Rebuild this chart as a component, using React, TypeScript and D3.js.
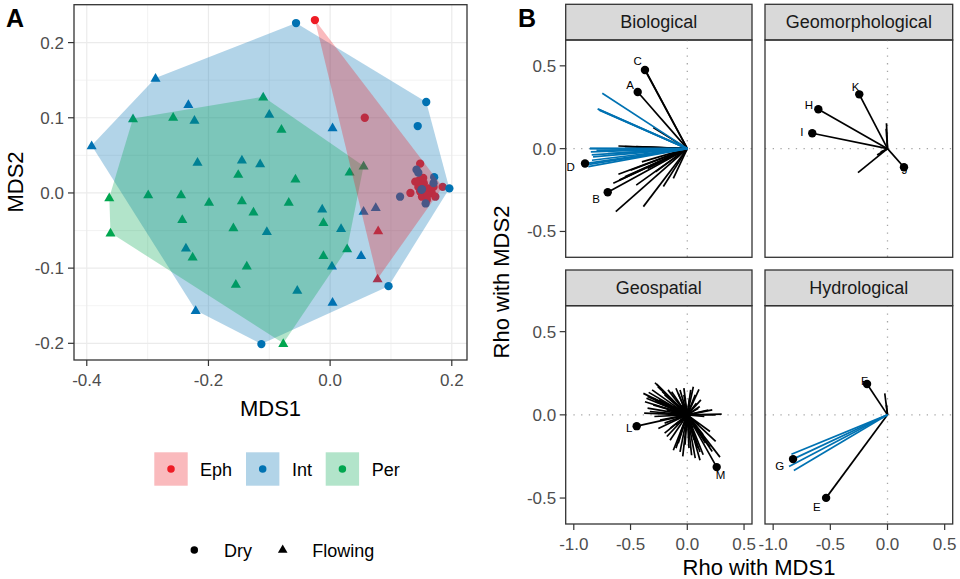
import React from "react";
import * as d3 from "d3";

// ---------- Panel A data ----------
const groups = ["Eph", "Int", "Per"];
const groupColors = ["#EE1C25", "#0072B2", "#00A64F"];
const states = ["Dry", "Flowing"];

const ephDry: [number, number][] = [
  [-0.025, 0.23], [0.057, 0.1], [0.148, 0.039], [0.147, 0.017], [0.185, 0.008], [0.132, 0.0],
  [0.145, 0.008], [0.154, 0.013], [0.162, 0.006], [0.156, 0.0], [0.167, 0.0], [0.151, -0.005],
  [0.173, -0.005], [0.159, -0.009], [0.164, 0.004], [0.148, 0.002], [0.14, 0.015], [0.16, -0.003],
  [0.17, 0.008], [0.153, 0.02],
];
const ephFlowing: [number, number][] = [[0.079, -0.05], [0.078, -0.114]];
const intDry: [number, number][] = [
  [-0.056, 0.226], [0.158, 0.121], [0.144, 0.089], [0.196, 0.006], [0.096, -0.124], [-0.113, -0.201],
  [0.142, 0.031], [0.145, 0.027], [0.171, 0.021], [0.17, 0.013], [0.115, -0.005], [0.151, 0.005],
  [0.157, -0.014], [0.15, 0.004],
];
const intFlowing: [number, number][] = [
  [-0.287, 0.153], [-0.233, 0.118], [-0.223, 0.097], [-0.1, 0.105], [0.004, 0.087], [-0.392, 0.063],
  [-0.218, 0.041], [-0.145, 0.044], [-0.115, 0.039], [-0.013, -0.021], [-0.104, -0.051], [0.018, -0.047],
  [0.055, -0.024], [0.075, -0.019], [-0.237, -0.073], [0.003, -0.097], [0.051, -0.083], [-0.054, -0.129],
  [-0.221, -0.156], [0.004, -0.145],
];
const perDry: [number, number][] = [];
const perFlowing: [number, number][] = [
  [-0.324, 0.099], [-0.258, 0.101], [-0.11, 0.128], [-0.08, 0.085], [-0.151, 0.025], [-0.057, 0.019],
  [0.032, 0.028], [0.055, 0.036], [-0.363, -0.006], [-0.299, -0.002], [-0.245, -0.002], [-0.199, -0.012],
  [-0.145, -0.01], [-0.068, -0.012], [-0.126, -0.025], [-0.243, -0.035], [-0.011, -0.039], [-0.159, -0.046],
  [-0.361, -0.053], [-0.226, -0.085], [-0.137, -0.097], [-0.011, -0.083], [0.028, -0.074], [-0.155, -0.121],
  [-0.077, -0.2],
];
const xTicksA = [-0.4, -0.2, 0.0, 0.2];
const xMinorA = [-0.3, -0.1, 0.1];
const yTicksA = [-0.2, -0.1, 0.0, 0.1, 0.2];
const yMinorA = [-0.15, -0.05, 0.05, 0.15];

// ---------- Panel B data ----------
const facetNames = ["Biological", "Geomorphological", "Geospatial", "Hydrological"];
const ticksB = [-1.0, -0.5, 0.0, 0.5];
const yTicksB = [-0.5, 0.0, 0.5];

const bioBlack: [number, number][] = [
  [-0.373, 0.475], [-0.36, 0.462], [-0.437, 0.342], [-0.3, 0.127], [-0.607, 0.016], [-0.55, 0.012],
  [-0.45, 0.012], [-0.701, -0.263], [-0.63, -0.38], [-0.387, -0.35], [-0.652, -0.209], [-0.607, -0.155],
  [-0.45, -0.22], [-0.28, -0.14], [-0.211, -0.229], [-0.123, -0.18], [-0.55, -0.17], [-0.35, -0.12],
  [-0.6, -0.19], [-0.5, -0.13], [-0.4, -0.08],
];
const bioBlue: [number, number][] = [
  [-0.749, 0.334], [-0.79, 0.24], [-0.775, 0.232], [-0.78, 0.236], [-0.857, 0.002], [-0.842, -0.038],
  [-0.85, -0.02], [-0.8, -0.01], [-0.872, -0.109], [-0.865, -0.095], [-0.84, -0.07], [-0.7, -0.03],
  [-0.901, -0.09], [-0.83, -0.05], [-0.86, 0.0],
];
const geomorphBlack: [number, number][] = [
  [-0.247, 0.328], [-0.605, 0.238], [-0.658, 0.093], [0.144, -0.112], [-0.258, -0.145], [-0.009, 0.153],
  [-0.012, 0.12], [-0.091, -0.038], [-0.06, -0.02],
];
const geomorphBlue: [number, number][] = [];
const geospatialBlack: [number, number][] = [
  [-0.446, -0.068], [0.259, -0.314], [-0.285, 0.193], [-0.26, 0.17], [-0.387, 0.129], [-0.35, 0.11],
  [-0.373, 0.079], [-0.3, 0.06], [-0.33, 0.02], [-0.25, 0.09], [-0.2, 0.12], [-0.138, 0.139],
  [-0.064, 0.149], [-0.03, 0.12], [0.053, 0.169], [0.103, 0.153], [0.02, 0.1], [0.097, 0.039],
  [0.185, 0.028], [0.303, 0.004], [0.15, -0.01], [-0.24, -0.032], [-0.255, -0.082], [-0.2, -0.11],
  [-0.152, -0.153], [-0.123, -0.213], [-0.064, -0.223], [-0.08, -0.17], [0.038, -0.243], [0.015, -0.2],
  [0.112, -0.223], [0.112, -0.273], [0.2, -0.193], [0.288, -0.254], [0.06, -0.15], [-0.1, -0.06],
  [0.05, -0.08], [-0.18, 0.03], [-0.12, 0.05], [0.08, 0.07], [-0.05, 0.06], [0.2, -0.1],
  [-0.27, 0.185], [-0.24, 0.16], [-0.31, 0.15], [-0.34, 0.135], [-0.36, 0.1], [-0.3, 0.1],
  [-0.28, 0.08], [-0.22, 0.14], [-0.17, 0.15], [-0.1, 0.16], [-0.08, 0.13], [-0.03, 0.16],
  [0.03, 0.15], [0.07, 0.12], [0.12, 0.09], [0.11, 0.05], [0.22, 0.03], [0.25, 0.0],
  [-0.35, 0.04], [-0.38, 0.01], [-0.29, -0.01], [-0.2, -0.05], [-0.15, -0.08], [-0.18, -0.13],
  [-0.1, -0.2], [-0.04, -0.25], [-0.02, -0.18], [0.07, -0.26], [0.09, -0.2], [0.14, -0.24],
  [0.16, -0.17], [0.22, -0.22], [0.25, -0.16], [0.14, -0.12], [0.1, -0.06], [-0.06, -0.11],
];
const geospatialBlue: [number, number][] = [];
const hydroBlack: [number, number][] = [
  [-0.179, 0.185], [-0.024, 0.129], [-0.01, 0.06], [-0.537, -0.499],
];
const hydroBlue: [number, number][] = [
  [-0.826, -0.266], [-0.84, -0.237], [-0.861, -0.31], [-0.819, -0.334],
];

// labelled vectors: facet index, label, end point, label position
const labelFacet = [0, 0, 0, 0, 1, 1, 1, 1, 2, 2, 3, 3, 3];
const labelText = ["C", "A", "D", "B", "K", "H", "I", "J", "L", "M", "F", "G", "E"];
const labelPoint: [number, number][] = [
  [-0.373, 0.475], [-0.437, 0.342], [-0.901, -0.09], [-0.701, -0.263],
  [-0.247, 0.328], [-0.605, 0.238], [-0.658, 0.093], [0.144, -0.112],
  [-0.446, -0.068], [0.259, -0.314],
  [-0.179, 0.185], [-0.826, -0.266], [-0.537, -0.499],
];
const labelPos: [number, number][] = [
  [-0.437, 0.531], [-0.505, 0.385], [-1.027, -0.112], [-0.804, -0.306],
  [-0.279, 0.371], [-0.687, 0.264], [-0.749, 0.103], [0.15, -0.129],
  [-0.511, -0.082], [0.294, -0.364],
  [-0.2, 0.205], [-0.943, -0.31], [-0.619, -0.556],
];

const FONT = "'Liberation Sans', Arial, Helvetica, sans-serif";
const fmt = (v: number) => d3.format(".1f")(v).replace("\u2212", "-");

export default function App() {
  // ----- Panel A scales -----
  const ax = d3.scaleLinear().domain([-0.421, 0.225]).range([74, 467]);
  const ay = d3.scaleLinear().domain([-0.2222, 0.2504]).range([360, 4.7]);

  const pts = [
    { g: 0, s: 0, d: ephDry }, { g: 0, s: 1, d: ephFlowing },
    { g: 1, s: 0, d: intDry }, { g: 1, s: 1, d: intFlowing },
    { g: 2, s: 0, d: perDry }, { g: 2, s: 1, d: perFlowing },
  ];
  const hullOrder = [1, 2, 0];
  const hulls = hullOrder.map((g) => {
    const all = pts.filter((p) => p.g === g).flatMap((p) => p.d);
    const h = d3.polygonHull(all.map(([x, y]) => [ax(x), ay(y)] as [number, number]));
    return { g, path: h ? "M" + h.map((p) => p.join(",")).join("L") + "Z" : "" };
  });
  const circ = d3.symbol().type(d3.symbolCircle).size(54)();
  const tri = d3.symbol().type(d3.symbolTriangle).size(44)();
  const circL = d3.symbol().type(d3.symbolCircle).size(44)();
  const triL = d3.symbol().type(d3.symbolTriangle).size(40)();

  // ----- Panel B layout -----
  const cols = [[565.7, 752], [765, 952.7]];
  const rows = [{ st: 4.3, top: 40, bot: 257.3 }, { st: 270, top: 305.7, bot: 524 }];
  const facetLines = [
    [bioBlack, bioBlue], [geomorphBlack, geomorphBlue],
    [geospatialBlack, geospatialBlue], [hydroBlack, hydroBlue],
  ];

  return (
    <svg width={960} height={579} style={{ position: "absolute", left: 0, top: 0, background: "#fff" }} fontFamily={FONT}>
      <rect x={0} y={0} width={960} height={579} fill="#fff" />
      {/* ===== Panel A ===== */}
      <g>
        {xMinorA.map((v) => <line key={"xm" + v} x1={ax(v)} x2={ax(v)} y1={4.7} y2={360} stroke="#EBEBEB" strokeWidth={0.6} />)}
        {yMinorA.map((v) => <line key={"ym" + v} y1={ay(v)} y2={ay(v)} x1={74} x2={467} stroke="#EBEBEB" strokeWidth={0.6} />)}
        {xTicksA.map((v) => <line key={"xg" + v} x1={ax(v)} x2={ax(v)} y1={4.7} y2={360} stroke="#EBEBEB" strokeWidth={1.2} />)}
        {yTicksA.map((v) => <line key={"yg" + v} y1={ay(v)} y2={ay(v)} x1={74} x2={467} stroke="#EBEBEB" strokeWidth={1.2} />)}
        {pts.map((p, i) =>
          p.d.map(([x, y], j) => (
            <path key={i + "-" + j} d={p.s === 0 ? circ : tri}
              transform={`translate(${ax(x)},${ay(y) + (p.s === 1 ? 0.8 : 0)})`} fill={groupColors[p.g]} />
          ))
        )}
        {hulls.map((h) => <path key={"h" + h.g} d={h.path} fill={groupColors[h.g]} fillOpacity={0.3} />)}
        <rect x={74} y={4.7} width={393} height={355.3} fill="none" stroke="#333" strokeWidth={1.3} />
        {xTicksA.map((v) => (
          <g key={"xt" + v}>
            <line x1={ax(v)} x2={ax(v)} y1={360} y2={366} stroke="#333" strokeWidth={1.2} />
            <text x={ax(v)} y={386} textAnchor="middle" fontSize={17} fill="#4D4D4D">{fmt(v)}</text>
          </g>
        ))}
        {yTicksA.map((v) => (
          <g key={"yt" + v}>
            <line x1={68} x2={74} y1={ay(v)} y2={ay(v)} stroke="#333" strokeWidth={1.2} />
            <text x={64} y={ay(v) + 6} textAnchor="end" fontSize={17} fill="#4D4D4D">{fmt(v)}</text>
          </g>
        ))}
        <text x={270.5} y={416} textAnchor="middle" fontSize={22} fill="#000">MDS1</text>
        <text transform="translate(23,182) rotate(-90)" textAnchor="middle" fontSize={22} fill="#000">MDS2</text>
        <text x={6} y={27} fontSize={25} fontWeight="bold">A</text>

        {/* legend: fill */}
        {groups.map((g, i) => {
          const kx = [154.3, 246, 325.7][i];
          const tx = [200, 292, 371.7][i];
          return (
            <g key={"lg" + g}>
              <rect x={kx} y={452.3} width={33.4} height={33.4} fill={groupColors[i]} fillOpacity={0.3} />
              <path d={circL} transform={`translate(${kx + 16.7},${469})`} fill={groupColors[i]} />
              <text x={tx} y={475.5} fontSize={18} fill="#000">{g}</text>
            </g>
          );
        })}
        {states.map((s, i) => {
          const kx = [194.3, 282.7][i];
          const tx = [224, 312.3][i];
          return (
            <g key={"ls" + s}>
              <path d={i === 0 ? circL : triL} transform={`translate(${kx},${550})`} fill="#000" />
              <text x={tx} y={556.5} fontSize={18} fill="#000">{s}</text>
            </g>
          );
        })}
      </g>

      {/* ===== Panel B ===== */}
      <text x={518} y={27} fontSize={25} fontWeight="bold">B</text>
      {facetNames.map((name, fi) => {
        const c = cols[fi % 2];
        const r = rows[Math.floor(fi / 2)];
        const bx = d3.scaleLinear().domain([-1.0713, 0.5701]).range([c[0], c[1]]);
        const by = d3.scaleLinear().domain([-0.656, 0.656]).range([r.bot, r.top]);
        const [blk, blu] = facetLines[fi];
        const labIdx = labelFacet.map((f, i) => (f === fi ? i : -1)).filter((i) => i >= 0);
        return (
          <g key={name}>
            <rect x={c[0]} y={r.st} width={c[1] - c[0]} height={r.top - r.st} fill="#D9D9D9" stroke="#333" strokeWidth={1.3} />
            <text x={(c[0] + c[1]) / 2} y={(r.st + r.top) / 2 + 6.3} textAnchor="middle" fontSize={18} fill="#1A1A1A">{name}</text>
            <line x1={bx(0)} x2={bx(0)} y1={r.top} y2={r.bot} stroke="#A6A6A6" strokeWidth={1.3} strokeDasharray="1.3,6.4" />
            <line y1={by(0)} y2={by(0)} x1={c[0]} x2={c[1]} stroke="#A6A6A6" strokeWidth={1.3} strokeDasharray="1.3,6.4" />
            {blk.map(([x, y], i) => (
              <line key={"k" + i} x1={bx(0)} y1={by(0)} x2={bx(x)} y2={by(y)} stroke="#000" strokeWidth={1.7} />
            ))}
            {blu.map(([x, y], i) => (
              <line key={"b" + i} x1={bx(0)} y1={by(0)} x2={bx(x)} y2={by(y)} stroke="#0072B2" strokeWidth={1.7} />
            ))}
            {labIdx.map((i) => (
              <g key={"l" + i}>
                <circle cx={bx(labelPoint[i][0])} cy={by(labelPoint[i][1])} r={4.2} fill="#000" />
                <text x={bx(labelPos[i][0])} y={by(labelPos[i][1]) + 4} textAnchor="middle" fontSize={11.5} fill="#000">{labelText[i]}</text>
              </g>
            ))}
            <rect x={c[0]} y={r.top} width={c[1] - c[0]} height={r.bot - r.top} fill="none" stroke="#333" strokeWidth={1.3} />
            {fi % 2 === 0 && yTicksB.map((v) => (
              <g key={"yb" + v}>
                <line x1={c[0] - 6} x2={c[0]} y1={by(v)} y2={by(v)} stroke="#333" strokeWidth={1.2} />
                <text x={c[0] - 9.5} y={by(v) + 6} textAnchor="end" fontSize={17} fill="#4D4D4D">{fmt(v)}</text>
              </g>
            ))}
            {fi >= 2 && ticksB.map((v) => (
              <g key={"xb" + v}>
                <line x1={bx(v)} x2={bx(v)} y1={r.bot} y2={r.bot + 6} stroke="#333" strokeWidth={1.2} />
                <text x={bx(v)} y={549.5} textAnchor="middle" fontSize={17} fill="#4D4D4D">{fmt(v)}</text>
              </g>
            ))}
          </g>
        );
      })}
      <text x={759} y={574.5} textAnchor="middle" fontSize={22} fill="#000">Rho with MDS1</text>
      <text transform="translate(509,282) rotate(-90)" textAnchor="middle" fontSize={22} fill="#000">Rho with MDS2</text>
    </svg>
  );
}
